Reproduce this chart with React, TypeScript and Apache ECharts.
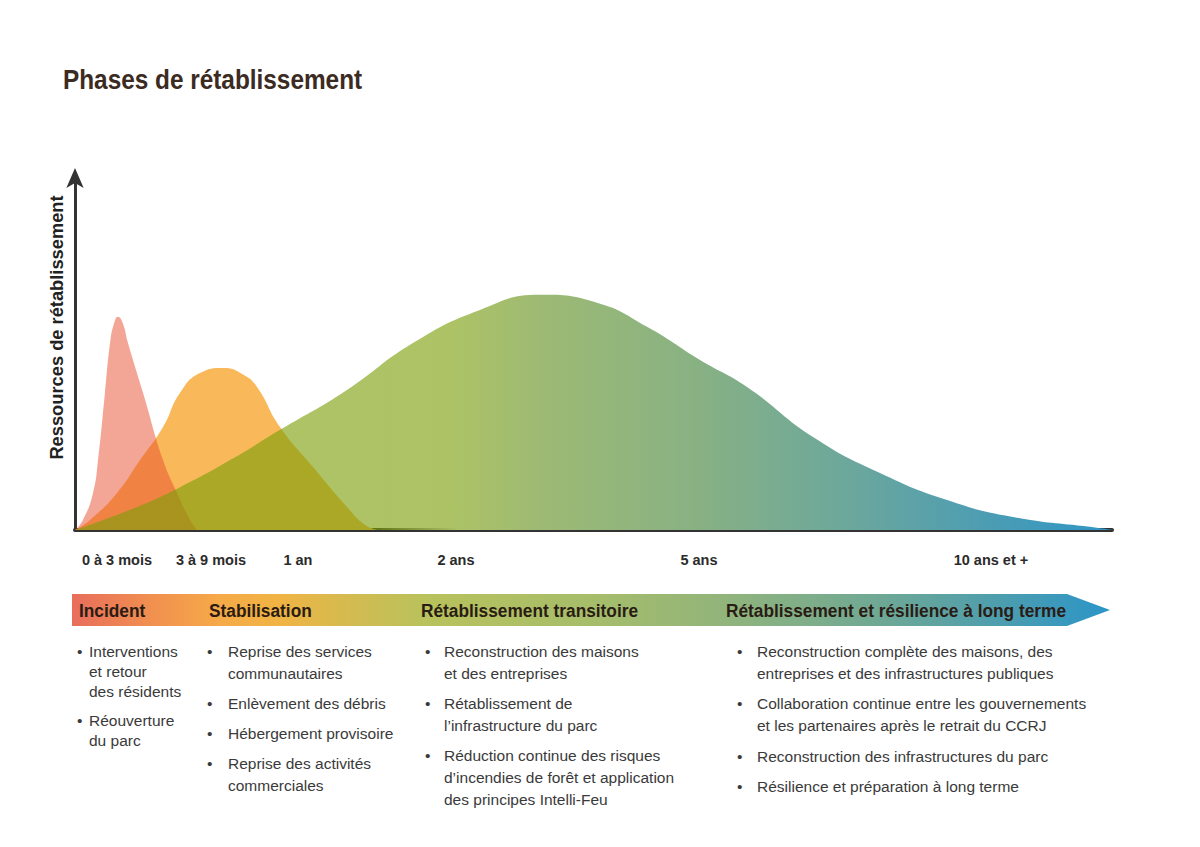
import React, { useEffect, useRef } from 'react';
import * as echarts from 'echarts';

const TITLE = 'Phases de rétablissement';
const Y_NAME = 'Ressources de rétablissement';

// x axis: relative time scale 0..100, labels placed at irregular positions
const xTickValues = [4.05, 13.11, 21.5, 36.74, 60.17, 88.33];
const xTickLabels = ['0 à 3 mois', '3 à 9 mois', '1 an', '2 ans', '5 ans', '10 ans et +'];

// resource curves [time, resources]
const incidentCurve = [
  [0, 0], [0.77, 2.8], [1.74, 10.3], [2.22, 19.4], [2.89, 38.1], [3.38, 51.9], [3.75, 57.2], [4.15, 59.2],
  [4.6, 57.5], [5.11, 51.9], [6.56, 38.1], [8.49, 19.4], [9.84, 10.3], [11.09, 2.8], [11.76, 0],
];
const stabilisationCurve = [
  [0, 0], [1.45, 2.8], [4.05, 10.3], [6.27, 19.4], [8.49, 28.6], [10.13, 38.1], [12.05, 43.6],
  [14.27, 45], [16.2, 43.2], [17.55, 39.7], [19.77, 28.6], [22.95, 17.5], [26.23, 6.4], [27.97, 1.4], [29.2, 0],
];
const retablissementCurve = [
  [0, 0], [5.3, 5.6], [10.13, 11.9], [14.95, 19.4], [19.77, 27.8], [26.23, 38.9], [32.59, 51.9],
  [39.05, 61.1], [44.84, 65.3], [50.34, 63.1], [55.16, 56.4], [60.27, 47.2], [64.8, 39.7],
  [71.17, 25.8], [77.63, 15.8], [84.09, 8.3], [90.45, 3.6], [98.55, 0.6], [100, 0],
];

const phaseNames = ['Incident', 'Stabilisation', 'Rétablissement transitoire', 'Rétablissement et résilience à long terme'];

const incidentItems = [['Interventions', 'et retour', 'des résidents'], ['Réouverture', 'du parc']];
const stabilisationItems = [
  ['Reprise des services', 'communautaires'],
  ['Enlèvement des débris'],
  ['Hébergement provisoire'],
  ['Reprise des activités', 'commerciales'],
];
const transitoireItems = [
  ['Reconstruction des maisons', 'et des entreprises'],
  ['Rétablissement de', 'l’infrastructure du parc'],
  ['Réduction continue des risques', 'd’incendies de forêt et application', 'des principes Intelli-Feu'],
];
const longTermeItems = [
  ['Reconstruction complète des maisons, des', 'entreprises et des infrastructures publiques'],
  ['Collaboration continue entre les gouvernements', 'et les partenaires après le retrait du CCRJ'],
  ['Reconstruction des infrastructures du parc'],
  ['Résilience et préparation à long terme'],
];

const SANS = '"Liberation Sans", Arial, Helvetica, sans-serif';

export default function App() {
  const ref = useRef<HTMLDivElement>(null);

  useEffect(() => {
    if (!ref.current) return;
    const chart = echarts.init(ref.current, undefined, { renderer: 'svg' });

    const graphic: any[] = [];
    graphic.push({
      type: 'text', x: 63, y: 79, scaleX: 0.87, silent: true,
      style: { text: TITLE, fontSize: 28, fontWeight: 'bold', fontFamily: SANS, fill: '#3b2b22', verticalAlign: 'middle', align: 'left' },
    });

    graphic.push({
      type: 'polygon', silent: true,
      shape: { points: [[72, 594], [1067, 594], [1110, 610], [1067, 626], [72, 626]] },
      style: {
        fill: new echarts.graphic.LinearGradient(0, 0, 1, 0, [
          { offset: 0, color: '#e86e5c' },
          { offset: 0.08, color: '#f1914f' },
          { offset: 0.14, color: '#f6a948' },
          { offset: 0.2, color: '#f0b444' },
          { offset: 0.28, color: '#cfbc52' },
          { offset: 0.34, color: '#b9c25c' },
          { offset: 0.5, color: '#a6bd6a' },
          { offset: 0.62, color: '#93b57a' },
          { offset: 0.78, color: '#6ea895' },
          { offset: 0.9, color: '#4b9db0' },
          { offset: 1, color: '#2b95c8' },
        ]),
      },
    });

    const phaseX = [79, 209, 421, 726];
    phaseNames.forEach((name, i) => {
      graphic.push({
        type: 'text', x: phaseX[i], y: 611, scaleX: 0.91, silent: true,
        style: { text: name, fontSize: 19, fontWeight: 'bold', fontFamily: SANS, fill: '#2a1c14', verticalAlign: 'middle', align: 'left' },
      });
    });

    const columns = [
      { items: incidentItems, bx: 77, tx: 89, lh: 20, gap: 29 },
      { items: stabilisationItems, bx: 207, tx: 228, lh: 22, gap: 30 },
      { items: transitoireItems, bx: 425, tx: 444, lh: 22, gap: 30 },
      { items: longTermeItems, bx: 737, tx: 757, lh: 22, gap: 30.5 },
    ];
    columns.forEach((col) => {
      let y = 651;
      col.items.forEach((lines) => {
        graphic.push({
          type: 'text', x: col.bx, y, silent: true,
          style: { text: '•', fontSize: 15.5, fontFamily: SANS, fill: '#3a3a3a', verticalAlign: 'middle', align: 'left' },
        });
        lines.forEach((line, li) => {
          graphic.push({
            type: 'text', x: col.tx, y: y + li * col.lh, silent: true,
            style: { text: line, fontSize: 15.5, fontFamily: SANS, fill: '#3a3a3a', verticalAlign: 'middle', align: 'left' },
          });
        });
        y += (lines.length - 1) * col.lh + col.gap;
      });
    });

    const areaSeries = (name: string, data: number[][], color: any, opacity: number) => ({
      type: 'line', name, data, smooth: 0.5, showSymbol: false, symbol: 'none',
      silent: true, lineStyle: { width: 0, opacity: 0 }, areaStyle: { color, opacity },
    });

    // translucent on the left (where it overlaps the other phases), opaque further right
    const greenFill = new echarts.graphic.LinearGradient(0, 0, 1, 0, [
      { offset: 0, color: 'rgba(123,158,7,0.62)' },
      { offset: 0.29, color: 'rgba(123,158,7,0.62)' },
      { offset: 0.31, color: 'rgba(141,172,41,0.72)' },
      { offset: 0.33, color: 'rgba(154,181,65,0.81)' },
      { offset: 0.35, color: 'rgba(164,188,84,0.9)' },
      { offset: 0.37, color: 'rgba(172,194,102,1)' },
      { offset: 0.45, color: '#9dba74' },
      { offset: 0.6, color: '#88b183' },
      { offset: 0.75, color: '#6ba79d' },
      { offset: 0.88, color: '#4c9db3' },
      { offset: 1, color: '#2e95c6' },
    ]);

    chart.setOption({
      animation: false,
      backgroundColor: '#ffffff',
      grid: { left: 75, right: 88, top: 177, bottom: 317, containLabel: false },
      xAxis: {
        type: 'value', min: 0, max: 100,
        axisLine: { show: true, onZero: true, lineStyle: { color: '#333333', width: 4 } },
        axisTick: { show: false },
        splitLine: { show: false },
        axisLabel: {
          customValues: xTickValues,
          formatter: (v: number) => {
            const i = xTickValues.findIndex((t) => Math.abs(t - v) < 1e-6);
            return i >= 0 ? xTickLabels[i] : '';
          },
          margin: 22, fontSize: 14.5, fontWeight: 'bold', fontFamily: SANS, color: '#2b2b2b',
          hideOverlap: false,
        },
      },
      yAxis: {
        type: 'value', min: 0, max: 98,
        name: Y_NAME, nameLocation: 'middle', nameRotate: 90, nameGap: 10,
        nameTextStyle: { fontSize: 18.3, fontWeight: 'bold', fontFamily: SANS, color: '#222222', padding: [0, 0, 0, 52] },
        axisLine: { show: true, symbol: ['none', 'arrow'], symbolSize: [13, 20], symbolOffset: [0, 9], lineStyle: { color: '#333333', width: 3 } },
        axisTick: { show: false },
        axisLabel: { show: false },
        splitLine: { show: false },
      },
      series: [
        areaSeries('Stabilisation', stabilisationCurve, '#f9b95a', 1),
        areaSeries('Incident', incidentCurve, 'rgb(231,77,45)', 0.5),
        areaSeries('Rétablissement', retablissementCurve, greenFill, 1),
      ],
      graphic,
    });

    return () => chart.dispose();
  }, []);

  return (
    <div
      ref={ref}
      style={{ position: 'absolute', left: 0, top: 0, width: 1200, height: 847, background: '#fff' }}
    />
  );
}
